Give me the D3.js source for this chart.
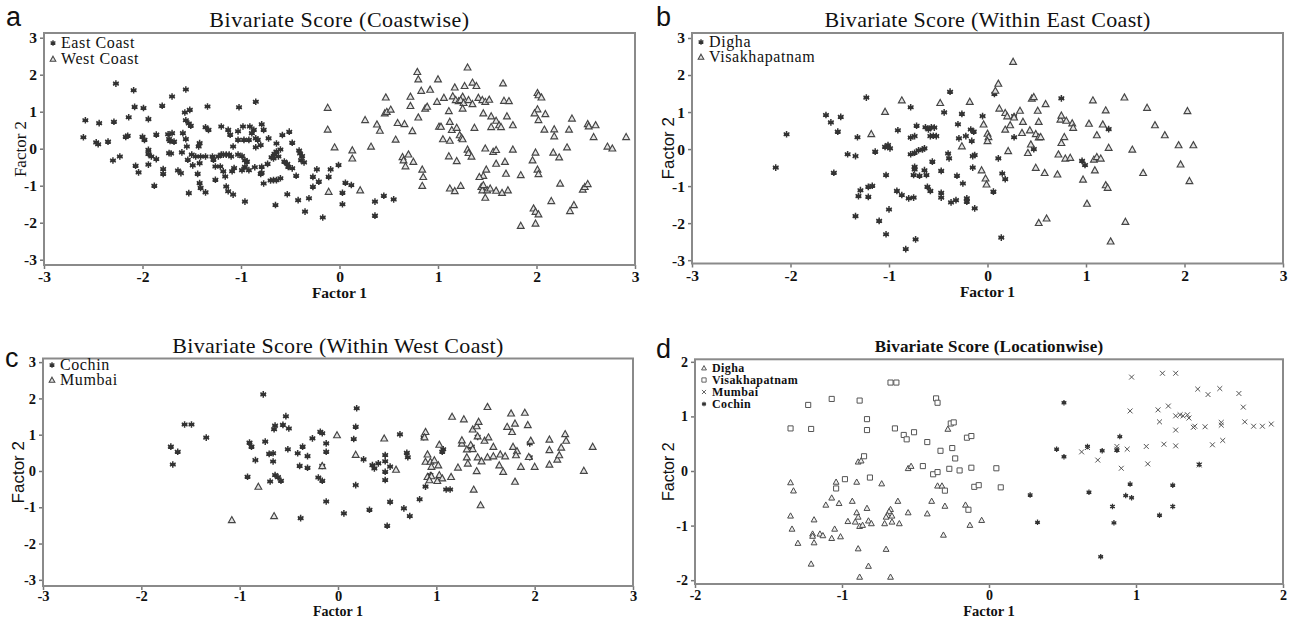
<!DOCTYPE html>
<html><head><meta charset="utf-8">
<script src="https://cdn.jsdelivr.net/npm/d3@7"></script>
<style>body{margin:0;background:#fff;} svg{display:block;}</style>
</head><body><svg id="chart" width="1293" height="619"></svg>
<script>
// ---------- DATA ----------
const ticks3 = [-3,-2,-1,0,1,2,3];
const ticks2 = [-2,-1,0,1,2];
const titles = ["Bivariate Score (Coastwise)","Bivariate Score (Within East Coast)","Bivariate Score (Within West Coast)","Bivariate Score (Locationwise)"];
const panelLetters = ["a","b","c","d"];
const xLabel = "Factor 1", yLabel = "Factor 2";

// Panel a
const eastCoast = [[-2.27,1.76],[-2.58,0.77],[-2.44,0.69],[-2.29,0.73],[-2.60,0.31],[-2.47,0.17],[-2.45,0.12],[-2.35,0.19],[-2.30,-0.32],[-2.23,-0.21],[-2.17,0.32],[-2.15,0.35],[-2.14,0.85],[-2.09,1.58],[-2.08,1.13],[-1.99,1.10],[-1.94,0.80],[-2.00,0.32],[-1.98,0.24],[-2.07,-0.46],[-2.04,-0.64],[-1.94,-0.03],[-1.94,-0.14],[-1.94,-0.43],[-1.91,-0.21],[-1.88,-1.00],[-1.86,0.38],[-1.86,-0.28],[-1.80,1.16],[-1.79,-0.55],[-1.79,-0.68],[-1.74,0.39],[-1.73,0.26],[-1.72,0.21],[-1.70,1.41],[-1.70,0.42],[-1.68,0.19],[-1.73,-0.12],[-1.71,-0.13],[-1.64,-0.59],[-1.61,-0.66],[-1.60,-0.10],[-1.59,0.42],[-1.57,0.98],[-1.56,1.60],[-1.56,0.77],[-1.56,0.26],[-1.55,0.06],[-1.52,1.05],[-1.53,0.68],[-1.51,0.62],[-1.50,-0.16],[-1.54,-0.30],[-1.53,-1.20],[-1.49,-0.45],[-1.46,-0.21],[-1.43,0.06],[-1.42,0.15],[-1.41,-0.21],[-1.42,-0.39],[-1.44,-0.68],[-1.42,-0.93],[-1.41,-1.06],[-1.36,-1.18],[-1.34,1.14],[-1.36,0.58],[-1.33,0.51],[-1.36,-0.21],[-1.29,-0.21],[-1.28,-0.30],[-1.26,-0.48],[-1.26,-0.84],[-1.23,-0.21],[-1.21,-0.48],[-1.20,0.60],[-1.20,-0.16],[-1.18,-0.16],[-1.15,-0.16],[-1.12,-0.16],[-1.18,-0.61],[-1.16,-0.75],[-1.13,0.51],[-1.11,0.38],[-1.10,-0.21],[-1.09,-0.61],[-1.15,-1.02],[-1.13,-1.15],[-1.08,-1.24],[-1.07,-0.52],[-1.08,0.06],[-1.02,1.12],[-1.03,0.47],[-1.03,0.24],[-1.03,-0.16],
[-0.85,1.27],[-0.98,0.60],[-0.91,0.60],[-0.87,0.51],[-0.79,0.66],[-0.77,0.51],[-0.89,0.42],[-0.97,0.24],[-0.92,0.24],[-0.85,0.28],[-0.83,0.24],[-0.80,0.10],[-0.85,0.04],[-0.72,0.28],[-0.64,0.14],[-0.58,0.37],[-0.51,0.46],[-0.48,0.16],[-0.60,-0.02],[-0.64,-0.08],[-0.66,-0.14],[-0.62,-0.21],[-0.67,-0.26],[-0.69,-0.23],[-0.73,-0.41],[-0.79,-0.49],[-0.80,-0.68],[-0.79,-0.65],[-0.86,-0.50],[-0.92,-0.58],[-0.96,-0.49],[-0.99,-0.58],[-0.96,-0.31],[-0.94,-0.35],[-0.99,-0.20],[-0.96,-1.43],[-0.77,-0.94],[-0.70,-0.86],[-0.67,-0.85],[-0.64,-0.85],[-0.60,-0.80],[-0.65,-1.52],[-0.53,-1.23],[-0.56,-0.35],[-0.53,-0.41],[-0.52,-0.49],[-0.48,-0.53],[-0.44,-0.73],[-0.41,-0.05],[-0.40,-0.13],[-0.38,-0.20],[-0.39,-0.31],[-0.36,-0.37],[-0.42,-1.39],[-0.31,-1.34],[-0.23,-0.56],[-0.27,-0.76],[-0.27,-1.03],[-0.21,-0.89],[-0.35,-1.70],[-0.17,-1.86],[-0.09,-0.56],[-0.11,-0.76],[-0.01,-0.44],[0.06,-0.92],[0.12,-0.98],[0.03,-1.19],[0.03,-1.50],[0.36,-1.43],[0.45,-1.27],[0.55,-1.37],[0.36,-1.81]];
const westCoast = [[-0.12,1.11],[-0.12,0.52],[-0.05,0.04],[0.13,-0.04],[0.13,-0.26],[-0.11,-1.16],[0.21,-1.12],[0.26,0.78],[0.32,0.06],[0.38,0.66],[0.41,0.49],[0.47,1.39],[0.46,0.96],[0.48,1.00],[0.52,1.06],[0.59,0.70],[0.66,0.67],[0.57,0.25],[0.64,-0.22],[0.65,-0.31],[0.67,-0.47],[0.70,-0.15],[0.75,-0.35],[0.72,1.41],[0.72,1.16],[0.79,2.08],[0.80,1.88],[0.83,1.57],[0.92,1.60],[0.80,0.85],[0.74,0.48],[0.87,1.09],[0.89,1.14],[0.84,-0.56],[0.85,-0.76],[0.84,-1.00],[1.00,1.88],[0.99,1.27],[1.01,0.60],
[1.30,2.20],[1.17,1.66],[1.27,1.70],[1.35,1.79],[1.39,1.70],[1.06,1.38],[1.15,1.42],[1.18,1.32],[1.21,1.29],[1.25,1.41],[1.23,1.32],[1.26,1.24],[1.25,1.09],[1.31,1.32],[1.35,1.21],[1.41,1.38],[1.45,1.32],[1.48,1.27],[1.52,1.33],[1.66,1.77],[1.67,1.30],[1.72,1.29],[1.11,1.02],[1.12,0.73],[1.14,0.51],[1.03,0.60],[1.19,0.57],[1.37,0.57],[1.46,0.96],[1.54,0.88],[1.59,0.76],[1.62,0.64],[1.64,0.59],[1.54,0.59],[1.70,0.88],[1.76,0.64],[1.05,0.26],[1.12,0.22],[1.22,0.37],[1.24,0.30],[1.25,0.26],[1.11,-0.20],[1.19,-0.33],[1.30,-0.02],[1.31,-0.11],[1.34,-0.21],[1.48,0.01],[1.56,-0.08],[1.59,-0.03],[1.76,-0.02],[1.59,-0.40],[1.68,-0.35],[1.69,-0.67],[1.49,-0.56],[1.46,-0.73],[1.42,-0.76],[1.12,-1.07],[1.17,-1.14],[1.23,-1.00],[1.44,-1.03],[1.45,-1.12],[1.46,-0.98],[1.48,-1.32],[1.50,-1.12],[1.53,-1.07],[1.59,-1.13],[1.65,-1.19],[1.71,-1.12],[1.84,-0.71],[2.01,1.51],[2.02,1.45],[2.05,1.39],[2.01,1.07],[1.98,0.96],[2.09,0.94],[2.02,0.78],[2.08,0.52],[2.18,0.53],[2.18,0.34],[2.33,0.52],[2.36,0.82],[2.52,0.67],[2.53,0.61],[2.60,0.64],[2.58,0.32],[2.31,0.04],[2.17,-0.10],[2.23,-0.23],[1.99,-0.10],[1.96,-0.31],[2.01,-0.56],[2.02,-0.68],[2.24,-0.94],[2.47,-1.10],[2.49,-1.03],[2.52,-0.95],[2.15,-1.41],[1.97,-1.61],[1.99,-1.70],[2.02,-1.77],[1.99,-2.02],[1.84,-2.08],[2.38,-1.52],[2.34,-1.68],[2.72,0.06],[2.77,0.01],[2.91,0.32]];

// Panel b
const digha = [[-2.15,-0.50],[-2.04,0.40],[-1.64,0.92],[-1.59,0.72],[-1.52,0.47],[-1.49,0.87],[-1.56,-0.64],[-1.42,-0.14],[-1.34,-0.19],[-1.32,0.32],[-1.34,-1.81],[-1.31,-1.27],[-1.29,-1.11],
[-1.23,1.39],[-1.21,-1.02],[-1.17,-0.99],[-1.21,-1.29],[-1.14,-0.07],[-1.10,-1.94],[-1.03,-2.30],[-1.00,-1.63],[-1.03,-0.70],[-1.04,0.06],[-1.01,0.11],[-0.99,0.02],[-0.91,0.51],[-0.92,-1.13],[-0.87,-1.24],[-0.80,-1.33],[-0.75,-1.31],[-0.83,-2.70],[-0.73,-2.44],[-0.78,1.13],[-0.78,0.31],[-0.74,0.35],[-0.72,0.63],[-0.78,-0.14],[-0.74,-0.10],[-0.70,-0.03],[-0.66,-0.01],[-0.64,0.02],[-0.74,-0.48],[-0.74,-0.55],[-0.75,-0.70],[-0.69,-0.72],[-0.64,-0.57],[-0.62,-0.70],[-0.63,0.59],[-0.60,0.53],[-0.57,0.59],[-0.54,0.58],[-0.58,0.35],[-0.55,0.36],[-0.52,0.35],[-0.56,-0.34],[-0.61,-1.02],[-0.58,-1.13],[-0.47,-0.59],[-0.47,-1.18],[-0.47,-1.31],[-0.44,0.99],[-0.38,1.55],[-0.40,-0.12],[-0.39,-0.25],[-0.37,-1.44],[-0.32,-1.38],[-0.31,-0.72],[-0.30,0.67],[-0.29,0.29],[-0.26,0.95],[-0.25,-0.93],[-0.22,0.35],[-0.21,-1.33],[-0.21,-1.42],[-0.17,0.53],[-0.16,0.22],[-0.15,-0.19],[-0.13,-0.16],[-0.15,-0.50],[-0.14,0.47],[-0.13,-1.60],[-0.05,0.89],[0.07,1.49],[0.06,-1.15],[0.11,-0.25],[0.14,-2.39],[0.15,-0.66],[0.18,-0.81],[0.27,0.32],[0.27,0.89],[0.47,0.00],[0.75,1.37],[1.23,0.54],[0.96,-0.32],[0.99,-0.43]];
const visakhapatnam = [[-0.87,1.32],[-1.04,1.01],[-1.18,0.41],[-0.48,1.25],[-0.18,1.28],[-0.26,0.08],[-0.04,0.67],[0.00,0.42],[0.01,0.33],[0.00,0.22],[-0.06,-0.57],[-0.02,-0.79],[-0.01,-0.95],[0.12,1.10],[0.11,1.77],[0.08,1.58],[0.26,2.36],[0.18,0.98],[0.20,0.89],[0.18,0.53],[0.23,0.65],[0.27,0.86],[0.33,1.04],[0.36,0.74],[0.35,0.44],[0.21,-0.05],[0.43,0.51],[0.44,0.13],[0.41,-0.10],[0.45,1.37],[0.47,1.41],[0.51,1.04],[0.52,0.74],[0.49,0.41],[0.52,0.32],[0.54,0.33],[0.49,-0.50],[0.58,-0.64],[0.59,1.22],[0.52,-1.99],[0.60,-1.87],[0.71,-0.68],[0.72,-0.14],[0.74,0.80],[0.75,0.91],[0.78,0.33],[0.75,0.17],[0.79,-0.25],[0.84,-0.23],[0.80,0.77],[0.86,0.70],
[0.87,0.58],[1.07,1.32],[1.20,1.05],[1.39,1.40],[1.62,1.12],[2.03,1.03],[1.03,0.69],[1.17,0.67],[1.11,0.38],[1.70,0.65],[1.80,0.38],[1.23,0.04],[1.47,-0.01],[1.94,0.11],[2.09,0.11],[1.08,-0.28],[1.11,-0.21],[1.15,-0.25],[1.09,-0.57],[0.97,-0.82],[1.20,-0.97],[1.22,-1.04],[1.58,-0.64],[1.96,-0.41],[2.05,-0.86],[1.01,-1.47],[1.40,-1.96],[1.25,-2.49]];

// Panel c
const cochin = [[-1.70,0.67],[-1.63,0.53],[-1.68,0.18],[-1.56,1.28],[-1.49,1.28],[-1.34,0.92],[-0.76,2.11],[-0.90,0.78],[-0.88,0.67],[-0.84,0.30],[-0.92,-0.16],[-0.74,0.81],[-0.70,0.47],[-0.66,0.49],[-0.66,0.26],[-0.69,-0.29],[-0.64,-0.11],[-0.61,-0.17],[-0.58,-0.27],[-0.64,1.25],[-0.65,1.15],[-0.56,1.27],[-0.53,1.51],[-0.50,1.17],[-0.51,0.60],[-0.41,0.49],[-0.36,0.67],[-0.39,0.14],[-0.31,0.09],[-0.31,0.41],[-0.26,0.90],[-0.18,1.08],[-0.16,1.04],[-0.20,-0.18],[-0.16,-0.27],[-0.12,0.53],[-0.12,-0.84],[-0.38,-1.30],[-0.16,0.14],[-0.12,0.76],
[0.19,1.73],[0.18,1.22],[0.16,0.88],[0.18,-0.39],[0.06,-1.17],[0.26,0.32],[0.35,0.16],[0.37,0.07],[0.41,0.21],[0.48,0.44],[0.48,0.27],[0.48,-0.02],[0.48,-0.25],[0.53,0.12],[0.53,-0.85],[0.32,-1.07],[0.50,-1.51],[0.63,1.01],[0.70,0.50],[0.71,0.38],[0.67,-1.03],[0.73,-1.24],[0.83,-0.78],[0.87,0.93],[0.89,-0.43],[0.94,-0.11],[1.07,0.60],[1.06,0.53],[1.10,-0.51],[1.14,-0.51],[1.36,0.67],[1.42,0.94],[1.95,0.76],[1.95,0.38]];
const mumbai = [[-1.08,-1.35],[-0.81,-0.43],[-0.65,-1.24],[-0.16,0.14],[-0.01,0.99],[0.18,0.45],[0.47,0.90],[0.59,0.04],[0.89,1.08],[0.88,0.93],[0.91,0.46],[0.89,0.26],[0.94,0.26],[0.98,0.30],[0.95,0.12],[1.02,0.16],[0.91,-0.16],[0.95,-0.14],[0.93,-0.25],[1.03,-0.11],[1.06,-0.20],[1.01,-0.27],[1.03,0.73],[1.15,-0.16],[1.16,1.50],[1.28,1.43],[1.22,0.10],[1.26,0.76],[1.26,0.85],[1.31,0.60],[1.31,0.38],[1.32,0.21],[1.35,0.72],[1.37,0.61],[1.37,1.15],[1.41,1.24],[1.43,1.36],[1.42,0.96],[1.49,0.84],[1.53,0.93],[1.52,1.77],[1.42,0.38],[1.46,0.27],[1.41,0.00],[1.52,0.38],[1.58,0.67],[1.58,0.41],[1.64,0.16],[1.65,0.46],[1.68,-0.02],[1.70,0.41],[1.72,1.22],[1.76,1.59],[1.77,1.08],[1.80,1.31],[1.78,0.67],[1.82,0.55],[1.81,0.44],[1.80,-0.29],[1.86,0.12],[1.90,1.61],[1.93,1.27],[1.94,0.39],[1.96,0.84],[2.00,0.12],[1.38,-0.51],[1.45,-0.94],[2.15,0.18],[2.15,0.58],[2.15,0.87],[2.23,0.32],[2.25,0.44],[2.27,0.65],[2.31,1.02],[2.32,0.84],[2.50,0.01],[2.59,0.67]];

// Panel d
const dighaLoc = [[-1.35,-0.21],[-1.33,-0.36],[-1.35,-0.82],[-1.34,-1.06],[-1.30,-1.32],[-1.21,-1.70],[-1.19,-0.89],[-1.20,-1.15],[-1.20,-1.19],[-1.19,-1.31],[-1.15,-1.15],[-1.13,-1.18],[-1.11,-0.62],[-1.07,-0.49],[-1.04,-0.20],[-1.02,-0.59],[-1.05,-1.06],[-1.07,-1.23],[-1.01,-1.20],[-0.96,-0.92],[-0.93,-0.55],[-0.90,-0.20],[-0.89,0.17],[-0.87,0.19],[-0.90,-0.76],[-0.89,-0.84],[-0.91,-0.93],[-0.88,-1.01],[-0.86,-0.99],[-0.89,-1.42],[-0.88,-1.94],
[-0.28,0.77],[-0.55,0.05],[-0.53,0.09],[-0.73,-0.23],[-0.35,-0.27],[-0.32,-0.27],[-0.62,-0.55],[-0.39,-0.55],[-0.30,-0.64],[-0.16,-0.62],[-0.83,-0.68],[-0.67,-0.70],[-0.68,-0.74],[-0.69,-0.81],[-0.70,-0.84],[-0.66,-0.82],[-0.55,-0.76],[-0.42,-0.78],[-0.82,-0.91],[-0.80,-0.96],[-0.71,-0.96],[-0.66,-0.93],[-0.61,-0.96],[-0.13,-0.99],[-0.05,-0.90],[-0.31,-1.17],[-0.70,-1.43],[-0.82,-1.74],[-0.67,-1.94]];
const visakhapatnamLoc = [[-1.35,0.78],[-1.21,0.77],[-1.23,1.21],[-1.07,1.32],[-0.88,1.29],[-0.85,0.27],[-0.98,-0.15],[-1.04,-0.32],
[-0.67,1.62],[-0.63,1.62],[-0.36,1.33],[-0.35,1.25],[-0.83,0.95],[-0.83,0.75],[-0.64,0.78],[-0.58,0.66],[-0.56,0.58],[-0.51,0.71],[-0.42,0.53],[-0.33,0.37],[-0.25,0.42],[-0.23,0.23],[-0.26,0.87],[-0.24,0.89],[-0.15,0.61],[-0.12,0.64],[-0.81,-0.12],[-0.45,0.09],[-0.38,-0.06],[-0.35,-0.02],[-0.27,0.04],[-0.20,0.01],[-0.12,0.06],[0.05,0.05],[-0.10,-0.29],[-0.07,-0.26],[0.08,-0.30],[-0.30,-0.36],[-0.14,-0.71]];
const mumbaiLoc = [[0.97,1.72],[1.18,1.79],[1.27,1.79],[1.42,1.50],[1.49,1.40],[1.57,1.51],[1.70,1.42],[1.73,1.17],[0.96,1.10],[1.15,1.12],[1.22,1.19],[1.16,0.90],[1.27,1.01],[1.30,1.03],[1.32,1.01],[1.35,1.03],[1.36,0.97],[1.27,0.75],[1.39,0.80],[1.40,0.82],[1.47,0.81],[1.58,0.89],[1.58,0.84],[1.74,0.90],[1.80,0.82],[1.86,0.82],[1.92,0.86],[0.63,0.35],[0.67,0.43],[0.74,0.20],[0.87,0.45],[0.87,0.40],[0.94,0.40],[1.07,0.45],[1.19,0.49],[1.27,0.46],[0.90,0.05],[1.08,0.13],[1.52,0.48],[1.59,0.56],[1.43,0.11]];
const cochinLoc = [[0.51,1.25],[0.46,0.40],[0.51,0.26],[0.28,-0.44],[0.33,-0.94],[0.67,0.45],[0.77,0.37],[0.89,0.63],[0.87,0.38],[0.68,-0.39],[0.96,-0.24],[0.93,-0.45],[0.97,-0.49],[0.84,-0.65],[0.85,-0.95],[0.76,-1.57],[1.16,-0.81],[1.25,-0.26],[1.25,-0.65],[1.43,0.12]];

// ---------- SYMBOLS ----------
const symAsterisk = {draw(ctx, size){ const r = Math.sqrt(size)/2;
  for (let i=0;i<3;i++){ const a = Math.PI/2 + i*Math.PI/3; ctx.moveTo(r*Math.cos(a), r*Math.sin(a)); ctx.lineTo(-r*Math.cos(a), -r*Math.sin(a)); }
  ctx.moveTo(-r*0.8,0); ctx.lineTo(r*0.8,0); }};
const symTriangle = {draw(ctx, size){ const r = Math.sqrt(size)/2;
  ctx.moveTo(0,-r); ctx.lineTo(r, r*0.8); ctx.lineTo(-r, r*0.8); ctx.closePath(); }};
const symSquare = {draw(ctx, size){ const r = Math.sqrt(size)/2; ctx.rect(-r,-r,2*r,2*r); }};
const symTimes = {draw(ctx, size){ const r = Math.sqrt(size)/2;
  ctx.moveTo(-r,-r); ctx.lineTo(r,r); ctx.moveTo(r,-r); ctx.lineTo(-r,r); }};

const styles = {
  star:   {type: symAsterisk, size: 44, stroke: "#333", fill: "none", sw: 1.5},
  tri:    {type: symTriangle, size: 46, stroke: "#444", fill: "#e3e3e3", sw: 1.15},
  starSm: {type: symAsterisk, size: 30, stroke: "#333", fill: "none", sw: 1.3},
  triSm:  {type: symTriangle, size: 34, stroke: "#4a4a4a", fill: "#eee", sw: 1.0},
  squareSm:{type: symSquare,  size: 26, stroke: "#555", fill: "#fff", sw: 1.0},
  timesSm:{type: symTimes,    size: 24, stroke: "#555", fill: "none", sw: 1.0}
};

const SERIF = "'Liberation Serif','Times New Roman',serif";
const SANS = "'Liberation Sans',Arial,sans-serif";
const svg = d3.select("#chart");

function drawPanel(cfg){
  const x = d3.scaleLinear().domain(cfg.xd).range([cfg.l, cfg.r]);
  const y = d3.scaleLinear().domain(cfg.yd).range([cfg.b, cfg.t]);
  const g = svg.append("g");

  const xa = g.append("g").attr("transform", `translate(0,${cfg.b})`)
    .call(d3.axisBottom(x).tickValues(cfg.xt).tickSize(4).tickPadding(cfg.xPad).tickFormat(d => String(d)));
  const ya = g.append("g").attr("transform", `translate(${cfg.l},0)`)
    .call(d3.axisLeft(y).tickValues(cfg.yt).tickSize(4).tickPadding(3).tickFormat(d => String(d)));
  [xa, ya].forEach(a => {
    a.select(".domain").remove();
    a.selectAll(".tick line").attr("stroke", "#777").attr("stroke-width", 1.5);
    a.selectAll(".tick text").attr("fill", "#111").style("font-family", SERIF)
      .style("font-weight", "bold").style("font-size", cfg.tickFs + "px");
  });

  g.append("rect").attr("x", cfg.l).attr("y", cfg.t).attr("width", cfg.r - cfg.l).attr("height", cfg.b - cfg.t)
    .attr("fill", "none").attr("stroke", "#8a8a8a").attr("stroke-width", 2);

  cfg.series.forEach(s => {
    const st = styles[s.style];
    const sym = d3.symbol().type(st.type).size(st.size);
    g.append("g").selectAll("path").data(s.data).join("path")
      .attr("transform", d => `translate(${x(d[0])},${y(d[1])})`)
      .attr("d", sym).attr("fill", st.fill).attr("stroke", st.stroke).attr("stroke-width", st.sw);
  });

  cfg.series.forEach((s, i) => {
    const st = styles[s.style];
    const ly = cfg.legY + i * cfg.legDy;
    g.append("path").attr("transform", `translate(${cfg.l + 9},${ly})`)
      .attr("d", d3.symbol().type(st.type).size(st.size * 0.7)).attr("fill", st.fill)
      .attr("stroke", st.stroke).attr("stroke-width", st.sw * 0.9);
    g.append("text").attr("x", cfg.l + 17).attr("y", ly + cfg.legFs * 0.33)
      .text(s.name).attr("fill", "#111").style("font-family", SERIF)
      .style("font-size", cfg.legFs + "px").style("font-weight", cfg.legBold ? "bold" : "normal")
      .style("letter-spacing", cfg.legLs + "px");
  });

  g.append("text").attr("x", (cfg.l + cfg.r) / 2).attr("y", cfg.titleY).attr("text-anchor", "middle")
    .text(cfg.title).attr("fill", "#111").style("font-family", SERIF).style("font-size", cfg.titleFs + "px")
    .style("font-weight", cfg.titleBold ? "bold" : "normal").style("letter-spacing", cfg.titleLs + "px");
  g.append("text").attr("x", cfg.letterX).attr("y", cfg.letterY).text(cfg.letter)
    .attr("fill", "#111").style("font-family", SANS).style("font-size", "27px");
  g.append("text").attr("x", (cfg.l + cfg.r) / 2).attr("y", cfg.xlabY).attr("text-anchor", "middle")
    .text(xLabel).attr("fill", "#111").style("font-family", SERIF).style("font-weight", "bold")
    .style("font-size", cfg.xlabFs + "px");
  g.append("text").attr("transform", `translate(${cfg.ylabX},${(cfg.t + cfg.b) / 2}) rotate(-90)`)
    .attr("text-anchor", "middle").text(yLabel).attr("fill", "#111")
    .style("font-family", cfg.ylabFont).style("font-size", cfg.ylabFs + "px");
}

drawPanel({l:44, r:635, t:33, b:265, xd:[-3,3], yd:[-3.143,3.127], xt:ticks3, yt:ticks3, tickFs:15.5, xPad:2,
  series:[{name:"East Coast", data:eastCoast, style:"star"},{name:"West Coast", data:westCoast, style:"tri"}],
  legY:43, legDy:16, legFs:16, legLs:0.6, legBold:false,
  title:titles[0], titleY:27, titleFs:22, titleLs:0.5, titleBold:false,
  letter:panelLetters[0], letterX:6, letterY:26, xlabY:298, xlabFs:15.5, ylabX:26, ylabFs:17, ylabFont:SERIF});

drawPanel({l:692, r:1283, t:33, b:263.5, xd:[-3,3], yd:[-3.09,3.135], xt:ticks3, yt:ticks3, tickFs:15.5, xPad:2,
  series:[{name:"Digha", data:digha, style:"star"},{name:"Visakhapatnam", data:visakhapatnam, style:"tri"}],
  legY:42, legDy:15, legFs:16, legLs:0.6, legBold:false,
  title:titles[1], titleY:27, titleFs:22, titleLs:0.3, titleBold:false,
  letter:panelLetters[1], letterX:656, letterY:26, xlabY:297, xlabFs:15.5, ylabX:674, ylabFs:17, ylabFont:SANS});

drawPanel({l:43, r:633, t:358.5, b:586, xd:[-3,3], yd:[-3.17,3.10], xt:ticks3, yt:ticks3, tickFs:14.5, xPad:1,
  series:[{name:"Cochin", data:cochin, style:"star"},{name:"Mumbai", data:mumbai, style:"tri"}],
  legY:365, legDy:15, legFs:16, legLs:0.6, legBold:false,
  title:titles[2], titleY:353, titleFs:22, titleLs:0.3, titleBold:false,
  letter:panelLetters[2], letterX:5, letterY:367, xlabY:615.5, xlabFs:14, ylabX:24, ylabFs:17, ylabFont:SANS});

drawPanel({l:695, r:1283, t:359.3, b:584, xd:[-2,2], yd:[-2.07,2.046], xt:ticks2, yt:ticks2, tickFs:14, xPad:2,
  series:[{name:"Digha", data:dighaLoc, style:"triSm"},{name:"Visakhapatnam", data:visakhapatnamLoc, style:"squareSm"},
          {name:"Mumbai", data:mumbaiLoc, style:"timesSm"},{name:"Cochin", data:cochinLoc, style:"starSm"}],
  legY:368, legDy:12, legFs:12, legLs:0.4, legBold:true,
  title:titles[3], titleY:352, titleFs:17, titleLs:0.2, titleBold:true,
  letter:panelLetters[3], letterX:656, letterY:358, xlabY:616, xlabFs:14.5, ylabX:674, ylabFs:16, ylabFont:SANS});
</script>
</body></html>
